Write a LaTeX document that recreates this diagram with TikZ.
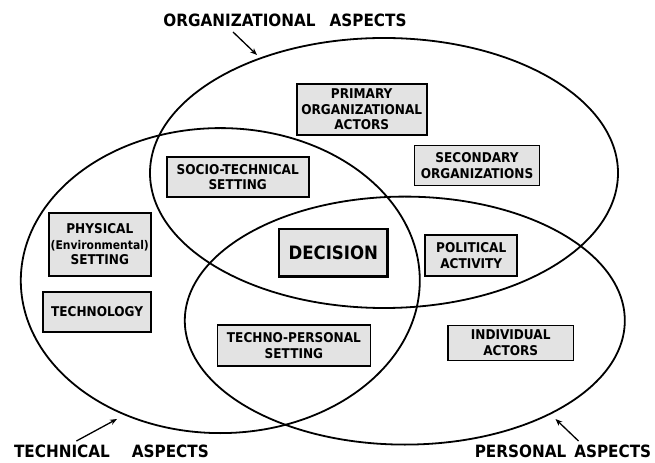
\documentclass[tikz,border=0pt]{standalone}
\usepackage{fontspec}
\setmainfont{DejaVu Sans Condensed}
\usetikzlibrary{shapes.geometric,arrows.meta}
\begin{document}
\begin{tikzpicture}[x=1bp,y=-1bp,
  ell/.style={draw, ellipse, line width=1.8bp, inner sep=0pt},
  box/.style={draw, fill=gray!22, line width=1.6bp, inner sep=1bp, align=center,
    font=\fontsize{13.5}{15.5}\selectfont\bfseries},
  bigbox/.style={box, line width=2.6bp, font=\fontsize{18.5}{20}\selectfont\bfseries},
  aspect/.style={font=\fontsize{17}{20}\selectfont\bfseries, inner sep=0pt},
  arr/.style={-{Stealth[length=7bp,width=5.5bp]}, line width=1.3bp}]
\useasboundingbox (0,0) rectangle (655,463);
% circles
\node[ell, minimum width=468bp, minimum height=270bp] (org) at (384,173) {};
\node[ell, minimum width=399bp, minimum height=305bp] (tech) at (220.3,280.6) {};
\node[ell, minimum width=440bp, minimum height=248bp] (pers) at (404.8,320.6) {};
% boxes
\node[box, minimum width=130bp, minimum height=51bp] (primary) at (361.7,109.4) {PRIMARY\\ORGANIZATIONAL\\ACTORS};
\node[box, minimum width=125bp, minimum height=40bp] (secondary) at (477,165.7) {SECONDARY\\ORGANIZATIONS};
\node[box, minimum width=142bp, minimum height=40bp] (socio) at (237.7,177) {SOCIO-TECHNICAL\\SETTING};
\node[box, minimum width=102bp, minimum height=62.6bp] (physical) at (99.8,244.5) {PHYSICAL\\{\fontsize{12}{15.5}\selectfont(Environmental)}\\SETTING};
\node[box, minimum width=108bp, minimum height=40bp] (technology) at (97.1,312) {TECHNOLOGY};
\node[bigbox, minimum width=108.6bp, minimum height=47.3bp] (decision) at (333.3,252.8) {DECISION};
\node[box, minimum width=92bp, minimum height=41bp] (political) at (471.2,255.8) {POLITICAL\\ACTIVITY};
\node[box, minimum width=153bp, minimum height=40.6bp] (technopers) at (293.9,345.4) {TECHNO-PERSONAL\\SETTING};
\node[box, minimum width=125.7bp, minimum height=35bp] (individual) at (510.7,342.9) {INDIVIDUAL\\ACTORS};
% labels
\node[aspect] (orglab) at (285,20) {ORGANIZATIONAL\hspace{14bp}ASPECTS};
\node[aspect] (techlab) at (111.4,451.5) {TECHNICAL\hspace{22bp}ASPECTS};
\node[aspect] (perslab) at (563,451.5) {PERSONAL\hspace{8bp}ASPECTS};
% arrows
\coordinate (oa1) at (233,32);
\coordinate (oa2) at (257,55);
\coordinate (ta1) at (76.4,441);
\coordinate (ta2) at (117,419);
\coordinate (pa1) at (578.5,441);
\coordinate (pa2) at (555.5,419);
\draw[arr] (oa1) -- (oa2);
\draw[arr] (ta1) -- (ta2);
\draw[arr] (pa1) -- (pa2);
\end{tikzpicture}
\end{document}
